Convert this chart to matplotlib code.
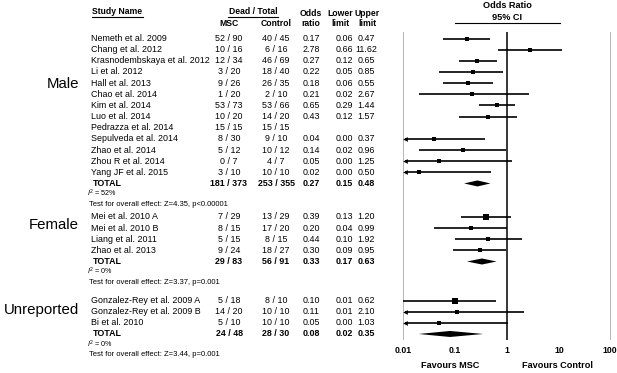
import matplotlib
matplotlib.use("Agg")
import matplotlib.pyplot as plt
import matplotlib.transforms as mtransforms
import numpy as np

plt.rcParams['font.family'] = ['Liberation Sans', 'DejaVu Sans']
plt.rcParams['mathtext.fontset'] = 'custom'
plt.rcParams['mathtext.rm'] = 'Liberation Sans'
plt.rcParams['mathtext.it'] = 'Liberation Sans:italic'

# ---------------- data ----------------
groups = ["Male", "Female", "Unreported"]

male_studies = ["Nemeth et al. 2009", "Chang et al. 2012", "Krasnodembskaya et al. 2012",
                "Li et al. 2012", "Hall et al. 2013", "Chao et al. 2014", "Kim et al. 2014",
                "Luo et al. 2014", "Pedrazza et al. 2014", "Sepulveda et al. 2014",
                "Zhao et al. 2014", "Zhou R et al. 2014", "Yang JF et al. 2015"]
male_msc = ["52 / 90", "10 / 16", "12 / 34", "3 / 20", "9 / 26", "1 / 20", "53 / 73",
            "10 / 20", "15 / 15", "8 / 30", "5 / 12", "0 / 7", "3 / 10"]
male_ctrl = ["40 / 45", "6 / 16", "46 / 69", "18 / 40", "26 / 35", "2 / 10", "53 / 66",
             "14 / 20", "15 / 15", "9 / 10", "10 / 12", "4 / 7", "10 / 10"]
male_or = [0.17, 2.78, 0.27, 0.22, 0.18, 0.21, 0.65, 0.43, None, 0.04, 0.14, 0.05, 0.02]
male_lo = [0.06, 0.66, 0.12, 0.05, 0.06, 0.02, 0.29, 0.12, None, 0.00, 0.02, 0.00, 0.00]
male_hi = [0.47, 11.62, 0.65, 0.85, 0.55, 2.67, 1.44, 1.57, None, 0.37, 0.96, 1.25, 0.50]
male_arrow = [False, False, False, False, False, False, False, False, False, True, False, True, True]
male_total = ["181 / 373", "253 / 355", 0.27, 0.15, 0.48]
male_i2 = "52%"
male_test = "Z=4.35, p<0.00001"

female_studies = ["Mei et al. 2010 A", "Mei et al. 2010 B", "Liang et al. 2011", "Zhao et al. 2013"]
female_msc = ["7 / 29", "8 / 15", "5 / 15", "9 / 24"]
female_ctrl = ["13 / 29", "17 / 20", "8 / 15", "18 / 27"]
female_or = [0.39, 0.20, 0.44, 0.30]
female_lo = [0.13, 0.04, 0.10, 0.09]
female_hi = [1.20, 0.99, 1.92, 0.95]
female_arrow = [False, False, False, False]
female_total = ["29 / 83", "56 / 91", 0.33, 0.17, 0.63]
female_i2 = "0%"
female_test = "Z=3.37, p=0.001"

unrep_studies = ["Gonzalez-Rey et al. 2009 A", "Gonzalez-Rey et al. 2009 B", "Bi et al. 2010"]
unrep_msc = ["5 / 18", "14 / 20", "5 / 10"]
unrep_ctrl = ["8 / 10", "10 / 10", "10 / 10"]
unrep_or = [0.10, 0.11, 0.05]
unrep_lo = [0.01, 0.01, 0.00]
unrep_hi = [0.62, 2.10, 1.03]
unrep_arrow = [False, True, True]
unrep_total = ["24 / 48", "28 / 30", 0.08, 0.02, 0.35]
unrep_i2 = "0%"
unrep_test = "Z=3.44, p=0.001"

xtick_vals = [0.01, 0.1, 1, 10, 100]
xtick_labels = ["0.01", "0.1", "1", "10", "100"]

# marker sizes (weights) in points
male_ms = [3.2, 2.4, 3.2, 2.8, 2.8, 2.4, 2.8, 2.8, 0, 2.4, 2.4, 2.4, 2.4]
female_ms = [4.0, 2.8, 3.0, 3.4]
unrep_ms = [5.0, 2.8, 2.8]

# ---------------- layout ----------------
W, H = 617, 373
fig = plt.figure(figsize=(W / 100, H / 100), dpi=100)

row0_px, row_px = 38.5, 11.15
top_px, bot_px = 32, 340
left_px, right_px = 403, 611
ax = fig.add_axes([left_px / W, 1 - bot_px / H, (right_px - left_px) / W, (bot_px - top_px) / H])
ax.set_xscale('log')
ax.set_xlim(0.01, 100)
ax.set_ylim((bot_px - row0_px) / row_px, (top_px - row0_px) / row_px)
for s in ax.spines.values():
    s.set_visible(False)
ax.set_yticks([])
ax.set_xticks(xtick_vals)
ax.set_xticklabels(xtick_labels, fontweight='bold', fontsize=6.3)
ax.minorticks_off()
ax.tick_params(axis='x', length=0, pad=4)
ax.axvline(0.01, color='#b0b0b0', lw=1.3)
ax.axvline(100, color='#b0b0b0', lw=1.3)
ax.axvline(1, color='black', lw=1.1)
labs = ax.get_xticklabels()
labs[-1].set_horizontalalignment('right')
labs[-1].set_x(100)
import matplotlib.transforms as _mt
labs[-1].set_transform(labs[-1].get_transform() + _mt.ScaledTranslation(6 / 100, 0, fig.dpi_scale_trans))

trans = mtransforms.blended_transform_factory(fig.transFigure, ax.transData)

def fx(px):
    return px / W

def fy(py):
    return 1 - py / H

fs = 6.4
x_name, x_msc, x_ctrl, x_or, x_lo, x_hi = 91, 229, 276, 311, 344, 366

def fmt(v):
    return "" if v is None else f"{v:.2f}"

label_x = 79
label_dy = {"Male": -1.9, "Female": -0.8, "Unreported": -0.15}

def draw_group(label, studies, msc, ctrl, ors, los, his, arrows, ms, total, i2, test, start):
    ys = [start + i for i in range(len(studies))]
    for i, y in enumerate(ys):
        fig.text(fx(x_name), y, studies[i], transform=trans, fontsize=fs, va='center', ha='left')
        fig.text(fx(x_msc), y, msc[i], transform=trans, fontsize=fs, va='center', ha='center')
        fig.text(fx(x_ctrl), y, ctrl[i], transform=trans, fontsize=fs, va='center', ha='center')
        fig.text(fx(x_or), y, fmt(ors[i]), transform=trans, fontsize=fs, va='center', ha='center')
        fig.text(fx(x_lo), y, fmt(los[i]), transform=trans, fontsize=fs, va='center', ha='center')
        fig.text(fx(x_hi), y, fmt(his[i]), transform=trans, fontsize=fs, va='center', ha='center')
        if ors[i] is None:
            continue
        if arrows[i]:
            ax.plot([0.0108, his[i]], [y, y], color='black', lw=1.2, solid_capstyle='butt')
            ax.plot([0.0108], [y], marker='<', color='black', ms=3.4, mew=0)
        else:
            ax.plot([los[i], his[i]], [y, y], color='black', lw=1.2, solid_capstyle='butt')
        ax.plot([ors[i]], [y], marker='s', color='black', ms=ms[i], mew=0)
    yt = ys[-1] + 1
    fig.text(fx(x_name + 2), yt, "TOTAL", transform=trans, fontsize=fs, va='center', ha='left', fontweight='bold')
    fig.text(fx(x_msc), yt, total[0], transform=trans, fontsize=fs, va='center', ha='center', fontweight='bold')
    fig.text(fx(x_ctrl), yt, total[1], transform=trans, fontsize=fs, va='center', ha='center', fontweight='bold')
    fig.text(fx(x_or), yt, fmt(total[2]), transform=trans, fontsize=fs, va='center', ha='center', fontweight='bold')
    fig.text(fx(x_lo), yt, fmt(total[3]), transform=trans, fontsize=fs, va='center', ha='center', fontweight='bold')
    fig.text(fx(x_hi), yt, fmt(total[4]), transform=trans, fontsize=fs, va='center', ha='center', fontweight='bold')
    h = 0.27
    ax.fill([total[3], total[2], total[4], total[2]], [yt, yt - h, yt, yt + h], color='black', lw=0)
    fig.text(fx(87), yt + 0.9, r"$I^2$ = " + i2, transform=trans,
             fontsize=5.2, va='center', ha='left')
    fig.text(fx(89), yt + 1.85, "Test for overall effect: " + test, transform=trans,
             fontsize=5.5, va='center', ha='left')
    fig.text(fx(label_x), (ys[0] + ys[-1]) / 2 + label_dy[label], label, transform=trans,
             fontsize=10.8, va='center', ha='right')

draw_group(groups[0], male_studies, male_msc, male_ctrl, male_or, male_lo, male_hi, male_arrow,
           male_ms, male_total, male_i2, male_test, 0)
draw_group(groups[1], female_studies, female_msc, female_ctrl, female_or, female_lo, female_hi,
           female_arrow, female_ms, female_total, female_i2, female_test, 16)
draw_group(groups[2], unrep_studies, unrep_msc, unrep_ctrl, unrep_or, unrep_lo, unrep_hi,
           unrep_arrow, unrep_ms, unrep_total, unrep_i2, unrep_test, 23.5)

# ---------------- headers ----------------
hfs = 6.2
fig.text(fx(92), fy(12), "Study Name", fontsize=hfs, fontweight='bold', va='center', ha='left')
fig.add_artist(plt.Line2D([fx(92), fx(143)], [fy(17), fy(17)], color='black', lw=0.8))
fig.text(fx(253), fy(12), "Dead / Total", fontsize=hfs, fontweight='bold', va='center', ha='center')
fig.add_artist(plt.Line2D([fx(228), fx(278)], [fy(17), fy(17)], color='black', lw=0.8))
fig.text(fx(x_msc), fy(24), "MSC", fontsize=hfs, fontweight='bold', va='center', ha='center')
fig.text(fx(x_ctrl), fy(24), "Control", fontsize=hfs, fontweight='bold', va='center', ha='center')
for xx, a, b in [(311, "Odds", "ratio"), (340.5, "Lower", "limit"), (367, "Upper", "limit")]:
    fig.text(fx(xx), fy(14), a, fontsize=hfs, fontweight='bold', va='center', ha='center')
    fig.text(fx(xx), fy(24), b, fontsize=hfs, fontweight='bold', va='center', ha='center')

fig.text(fx(507), fy(6), "Odds Ratio", fontsize=6.6, fontweight='bold', va='center', ha='center')
fig.text(fx(507), fy(17), "95% CI", fontsize=6.6, fontweight='bold', va='center', ha='center')
fig.add_artist(plt.Line2D([fx(455), fx(560)], [fy(23), fy(23)], color='black', lw=0.8))

fig.text(fx(450), fy(366), "Favours MSC", fontsize=6.6, fontweight='bold', va='center', ha='center')
fig.text(fx(557), fy(366), "Favours Control", fontsize=6.6, fontweight='bold', va='center', ha='center')

fig.savefig("out.png", dpi=100, facecolor='white')
